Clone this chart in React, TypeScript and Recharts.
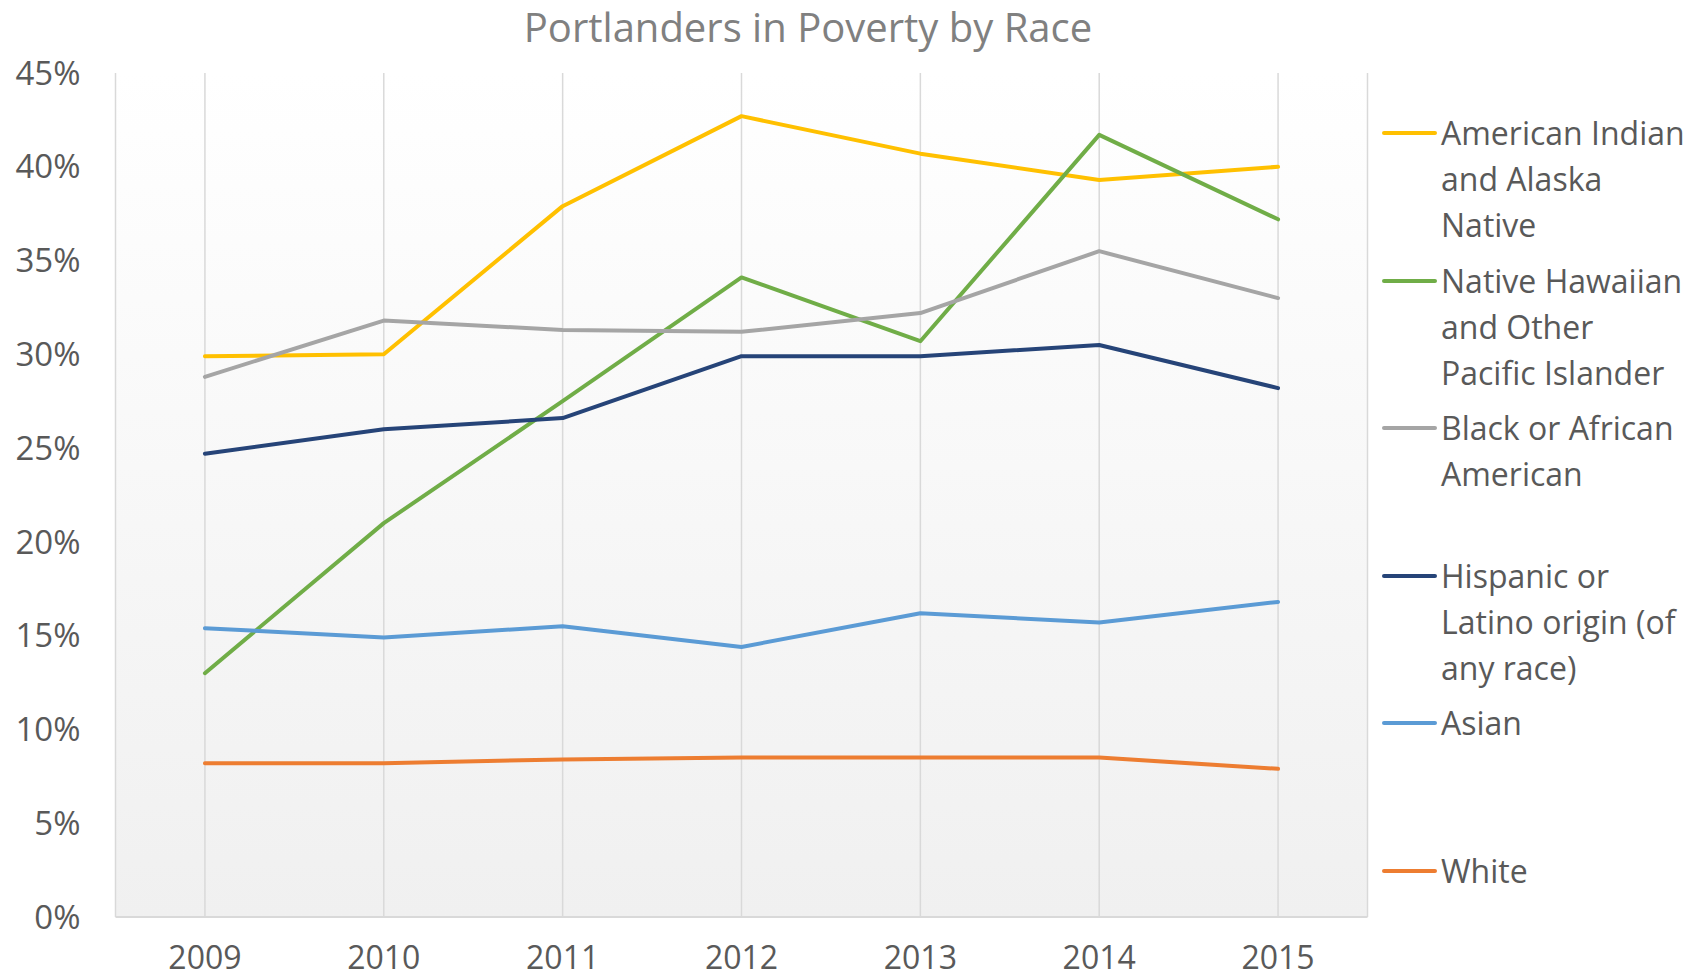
import React from 'react';
import { LineChart, Line, XAxis, YAxis, CartesianGrid, Legend } from 'recharts';

const years = ['2009', '2010', '2011', '2012', '2013', '2014', '2015'];
const americanIndian = [29.9, 30.0, 37.9, 42.7, 40.7, 39.3, 40.0];
const nativeHawaiian = [13.0, 21.0, 27.5, 34.1, 30.7, 41.7, 37.2];
const blackAfrican = [28.8, 31.8, 31.3, 31.2, 32.2, 35.5, 33.0];
const hispanic = [24.7, 26.0, 26.6, 29.9, 29.9, 30.5, 28.2];
const asian = [15.4, 14.9, 15.5, 14.4, 16.2, 15.7, 16.8];
const white = [8.2, 8.2, 8.4, 8.5, 8.5, 8.5, 7.9];
const yTicks = [0, 5, 10, 15, 20, 25, 30, 35, 40, 45];

const series = [
  { key: 'aian', name: 'American Indian and Alaska Native', values: americanIndian, color: '#FFC000' },
  { key: 'nhpi', name: 'Native Hawaiian and Other Pacific Islander', values: nativeHawaiian, color: '#70AD47' },
  { key: 'black', name: 'Black or African American', values: blackAfrican, color: '#A5A5A5' },
  { key: 'hisp', name: 'Hispanic or Latino origin (of any race)', values: hispanic, color: '#264478' },
  { key: 'asian', name: 'Asian', values: asian, color: '#5B9BD5' },
  { key: 'white', name: 'White', values: white, color: '#ED7D31' },
];

const data = years.map((y, i) => {
  const row: any = { year: y };
  series.forEach((s) => { row[s.key] = s.values[i]; });
  return row;
});

const FONT = '"Open Sans", sans-serif';
const TEXT = '#595959';

const renderLegend = () => (
  <div style={{ fontFamily: FONT, fontSize: 32, color: TEXT }}>
    {series.map((s) => (
      <div key={s.key} style={{ position: 'relative', height: 147.6 }}>
        <div style={{ position: 'absolute', left: 0, top: 21, width: 55, height: 4, borderRadius: 2, background: s.color }} />
        <div style={{ position: 'absolute', left: 59, top: 0, width: 250, lineHeight: '46px' }}>{s.name}</div>
      </div>
    ))}
  </div>
);

export default function App() {
  return (
    <div style={{ position: 'relative', width: 1706, height: 980, background: '#fff' }}>
      <style>{`body{margin:0}`}</style>
      <div style={{ position: 'absolute', left: 0, width: 1616, top: 0, textAlign: 'center', fontFamily: FONT, fontSize: 40, color: '#808080', lineHeight: '54px' }}>
        Portlanders in Poverty by Race
      </div>
      <LineChart width={1706} height={980} data={data} margin={{ top: 73, right: 338.5, bottom: 0, left: 0 }}>
        <defs>
          <linearGradient id="plotBg" x1="0" y1="0" x2="0" y2="1">
            <stop offset="0%" stopColor="#ffffff" />
            <stop offset="100%" stopColor="#f0f0f0" />
          </linearGradient>
        </defs>
        <CartesianGrid horizontal={false} stroke="#d9d9d9" strokeWidth={1.5} fill="url(#plotBg)" />
        <XAxis
          dataKey="year"
          scale="band"
          height={63}
          tickLine={false}
          tickSize={0}
          tickMargin={29}
          axisLine={{ stroke: '#d9d9d9', strokeWidth: 2 }}
          tick={{ fill: TEXT, fontSize: 32, fontFamily: FONT }}
        />
        <YAxis
          width={115.5}
          domain={[0, 45]}
          ticks={yTicks}
          interval={0}
          axisLine={false}
          tickLine={false}
          tickSize={0}
          tickMargin={35}
          tickFormatter={(v: number) => `${v}%`}
          tick={{ fill: TEXT, fontSize: 33, fontFamily: FONT }}
        />
        <Legend
          layout="vertical"
          align="center"
          verticalAlign="middle"
          content={renderLegend}
          wrapperStyle={{ left: 1382, top: 110, width: 324, height: 'auto' }}
        />
        {series.map((s) => (
          <Line
            key={s.key}
            dataKey={s.key}
            name={s.name}
            stroke={s.color}
            strokeWidth={4}
            strokeLinecap="round"
            strokeLinejoin="round"
            dot={false}
            activeDot={false}
            isAnimationActive={false}
          />
        ))}
      </LineChart>
    </div>
  );
}
